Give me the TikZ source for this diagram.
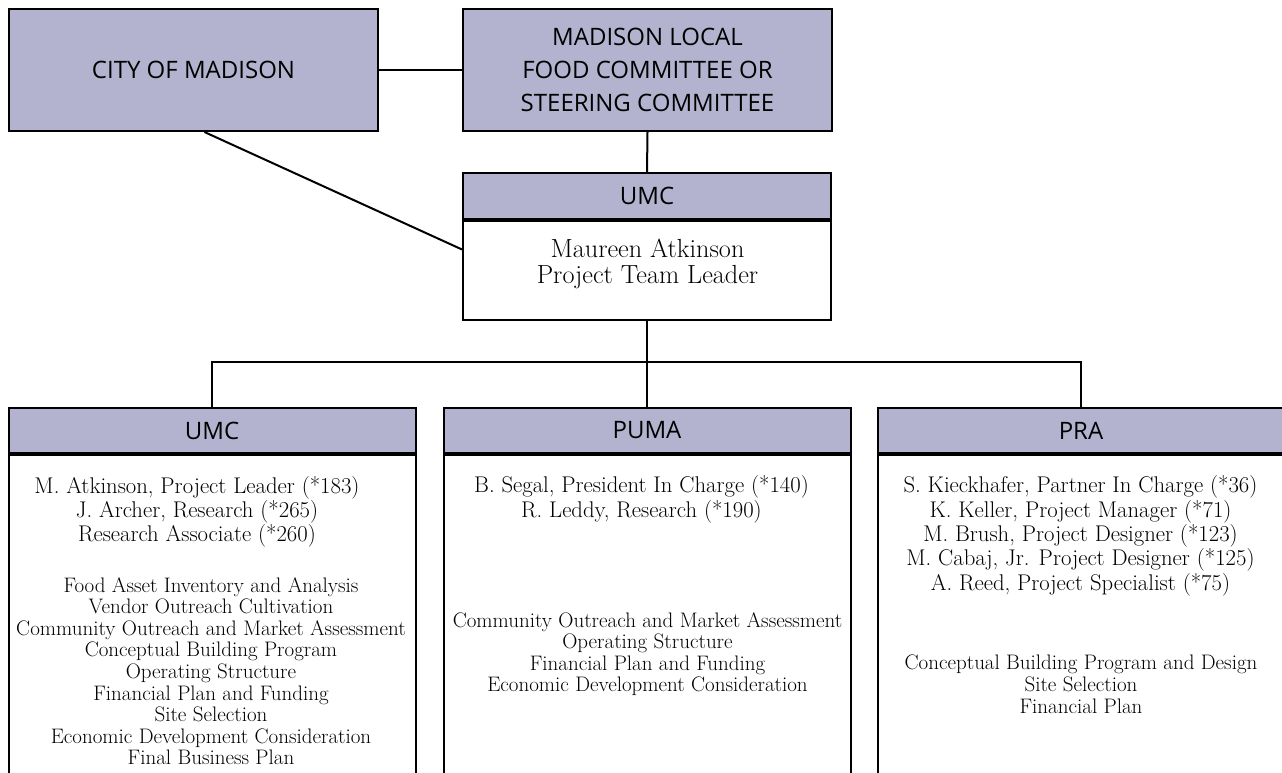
\documentclass[tikz,border=0pt]{standalone}
\usepackage{fontspec}
\newfontfamily\headfont{Open Sans}
\usetikzlibrary{calc}
\definecolor{lilac}{RGB}{179,179,207}
\tikzset{
  headbox/.style={draw,fill=lilac,line width=2pt,inner sep=0pt,align=center,font=\headfont\fontsize{24}{33}\selectfont},
  bodybox/.style={draw,fill=white,line width=2pt,inner sep=0pt},
  leadtext/.style={inner sep=0pt,align=center,font=\fontsize{26.2}{26}\selectfont},
  stafftext/.style={inner sep=0pt,align=center,font=\fontsize{22.7}{24.4}\selectfont},
  tasktext/.style={inner sep=0pt,align=center,font=\fontsize{21}{21.6}\selectfont}
}
\begin{document}
\begin{tikzpicture}[x=1pt,y=1pt,line width=2pt]
\useasboundingbox (0,0) rectangle (1282,-772);
\clip (0,0) rectangle (1282,-772);
\node[headbox,minimum width=369,minimum height=122] (city) at (193.5,-70) {CITY OF MADISON};
\node[headbox,minimum width=369,minimum height=122] (local) at (647.5,-70) {MADISON LOCAL\\FOOD COMMITTEE OR\\STEERING COMMITTEE};
\node[headbox,minimum width=368,minimum height=46] (umc) at (647,-196) {UMC};
\node[bodybox,minimum width=368,minimum height=99,anchor=north] (lead) at (umc.south) {};
\node[leadtext] (leadname) at (647.5,-264) {Maureen Atkinson\\Project Team Leader};
\coordinate (leadw) at ($(umc.north west)!0.52!(lead.south west)$);
\draw (city.east) -- (local.west);
\draw (local.south) -- (umc.north);
\draw (city.-80) -- (leadw);
\foreach \name/\title/\cx in {umcb/UMC/212,puma/PUMA/647,pra/PRA/1081}{
  \node[headbox,minimum width=407,minimum height=45] (\name) at (\cx,-430.5) {\title};
  \node[bodybox,minimum width=407,minimum height=360,anchor=north] (\name body) at (\name.south) {};
}
\coordinate (bus) at ($(lead.south)+(0,-41)$);
\draw (lead.south) -- (bus) -- (puma.north);
\draw (umcb.north) |- (bus) -| (pra.north);
\node[stafftext] (umcstaff) at (197,-511.9) {M. Atkinson, Project Leader (*183)\\J. Archer, Research (*265)\\Research Associate (*260)};
\node[tasktext] (umctasks) at (211,-671.2) {Food Asset Inventory and Analysis\\Vendor Outreach Cultivation\\Community Outreach and Market Assessment\\Conceptual Building Program\\Operating Structure\\Financial Plan and Funding\\Site Selection\\Economic Development Consideration\\Final Business Plan};
\node[stafftext] (pumastaff) at (641.5,-499.3) {B. Segal, President In Charge (*140)\\R. Leddy, Research (*190)};
\node[tasktext] (pumatasks) at (647.5,-654.2) {Community Outreach and Market Assessment\\Operating Structure\\Financial Plan and Funding\\Economic Development Consideration};
\node[stafftext] (prastaff) at (1080.5,-535.8) {S. Kieckhafer, Partner In Charge (*36)\\K. Keller, Project Manager (*71)\\M. Brush, Project Designer (*123)\\M. Cabaj, Jr. Project Designer (*125)\\A. Reed, Project Specialist (*75)};
\node[tasktext] (pratasks) at (1081,-684.2) {Conceptual Building Program and Design\\Site Selection\\Financial Plan};
\end{tikzpicture}
\end{document}
